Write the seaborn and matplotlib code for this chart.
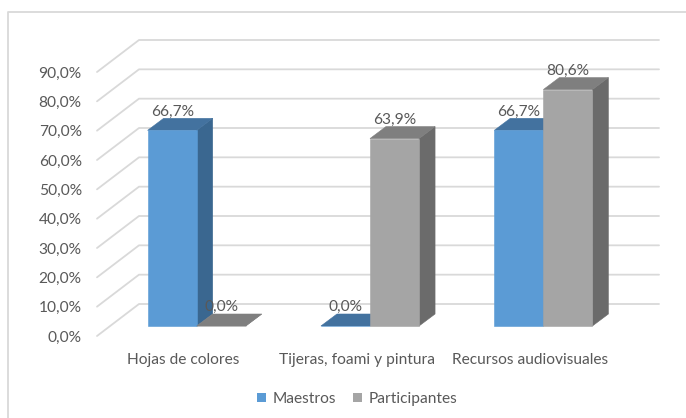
import pandas as pd
import numpy as np
import matplotlib
matplotlib.use("Agg")
import matplotlib.pyplot as plt
from matplotlib.patches import Polygon, Patch
from matplotlib.lines import Line2D
import seaborn as sns

# ── Data ──────────────────────────────────────────────────────────────────────
categorias    = ["Hojas de colores", "Tijeras, foami y pintura", "Recursos audiovisuales"]
series        = ["Maestros", "Participantes"]
maestros      = [0.667, 0.000, 0.667]
participantes = [0.000, 0.639, 0.806]
ticks         = [0.0, 0.1, 0.2, 0.3, 0.4, 0.5, 0.6, 0.7, 0.8, 0.9]

df = pd.DataFrame({
    "categoria": categorias * 2,
    "serie":     [series[0]] * 3 + [series[1]] * 3,
    "valor":     maestros + participantes,
})

# ── Style ─────────────────────────────────────────────────────────────────────
sns.set_theme(style="white")
plt.rcParams["font.family"] = ["Lato", "DejaVu Sans"]
TXT = "#595959"
GRID = "#d9d9d9"
FS = 11.2
COLORS = {  # front, top, side
    "Maestros":      ("#5b9bd5", "#43729f", "#3a6790"),
    "Participantes": ("#a5a5a5", "#7f7f7f", "#6b6b6b"),
}

W, H = 686, 418
fig = plt.figure(figsize=(W / 100, H / 100), dpi=100)
ax = fig.add_axes([97 / W, 82 / H, 520 / W, 264 / H])

sns.barplot(data=df, x="categoria", y="valor", hue="serie", hue_order=series,
            palette=[COLORS[s][0] for s in series], saturation=1, width=0.566,
            legend=False, ax=ax, linewidth=0)

ax.set_xlim(-0.5, 2.5)
ax.set_ylim(0, 0.9)

# pixel -> data conversions for the fake 3D depth
px_x = 3 / 520
px_y = 0.9 / 264
DX, DY = 42 * px_x, 32 * px_y          # full floor depth
OX, OY = 13 * px_x, 10 * px_y          # bar front plane offset
BX, BY = 16 * px_x, 12 * px_y          # bar depth

# back wall gridlines + diagonal floor lines
for t in ticks:
    ax.add_line(Line2D([-0.5, -0.5 + DX, 2.5 + DX], [t, t + DY, t + DY],
                       color=GRID, lw=1.3, clip_on=False, zorder=0.5))

# bars: shift the front faces and add top / side faces
bars = sorted(ax.patches, key=lambda p: p.get_x())
n_cat = len(categorias)
for i, p in enumerate(bars):
    serie = series[0] if i % 2 == 0 else series[1]
    front, top, side = COLORS[serie]
    x0 = p.get_x() + OX
    w = p.get_width()
    h = p.get_height()
    p.set_x(x0)
    p.set_y(OY)
    p.set_clip_on(False)
    p.set_edgecolor(front)
    p.set_linewidth(0.4)
    z = 2 + i * 0.1
    p.set_zorder(z + 0.02)
    y1 = OY + h
    side_poly = Polygon([(x0 + w, OY), (x0 + w + BX, OY + BY),
                         (x0 + w + BX, y1 + BY), (x0 + w, y1)],
                        closed=True, facecolor=side, edgecolor=side, lw=0.4,
                        clip_on=False, zorder=z)
    top_poly = Polygon([(x0, y1), (x0 + BX, y1 + BY),
                        (x0 + w + BX, y1 + BY), (x0 + w, y1)],
                       closed=True, facecolor=top, edgecolor=top, lw=0.4,
                       clip_on=False, zorder=z + 0.01)
    ax.add_patch(side_poly)
    ax.add_patch(top_poly)
    lbl = f"{h * 100:.1f}%".replace(".", ",")
    ax.annotate(lbl, (x0 + w / 2, y1), xytext=(0, 13.5), textcoords="offset points",
                ha="center", va="center", fontsize=FS, color=TXT, zorder=10,
                annotation_clip=False)

# axes cosmetics
sns.despine(ax=ax, left=True, bottom=True, top=True, right=True)
ax.set_yticks(ticks)
ax.set_yticklabels([f"{t * 100:.1f}%".replace(".", ",") for t in ticks])
ax.set_xticks(range(n_cat))
ax.set_xticklabels(categorias)
ax.tick_params(axis="y", length=0, pad=11, labelsize=FS, labelcolor=TXT)
ax.tick_params(axis="x", length=0, pad=12, labelsize=FS, labelcolor=TXT)
ax.set_xlabel("")
ax.set_ylabel("")
ax.grid(False)
ax.patch.set_alpha(0)

# legend
handles = [Patch(facecolor=COLORS[s][0], edgecolor="none") for s in series]
fig.legend(handles, series, loc="center", bbox_to_anchor=(357 / W, 1 - 399 / H),
           ncol=2, frameon=False, fontsize=FS, labelcolor=TXT,
           handlelength=0.6, handleheight=0.6, handletextpad=0.4, columnspacing=1.1)

# chart area border (left and top visible)
yb = 1 - 12 / H
xb = 8 / W
fig.add_artist(Line2D([xb, xb, 1.0], [0, yb, yb], transform=fig.transFigure,
                      color=GRID, lw=1.3))

fig.savefig("out.png", dpi=100)
